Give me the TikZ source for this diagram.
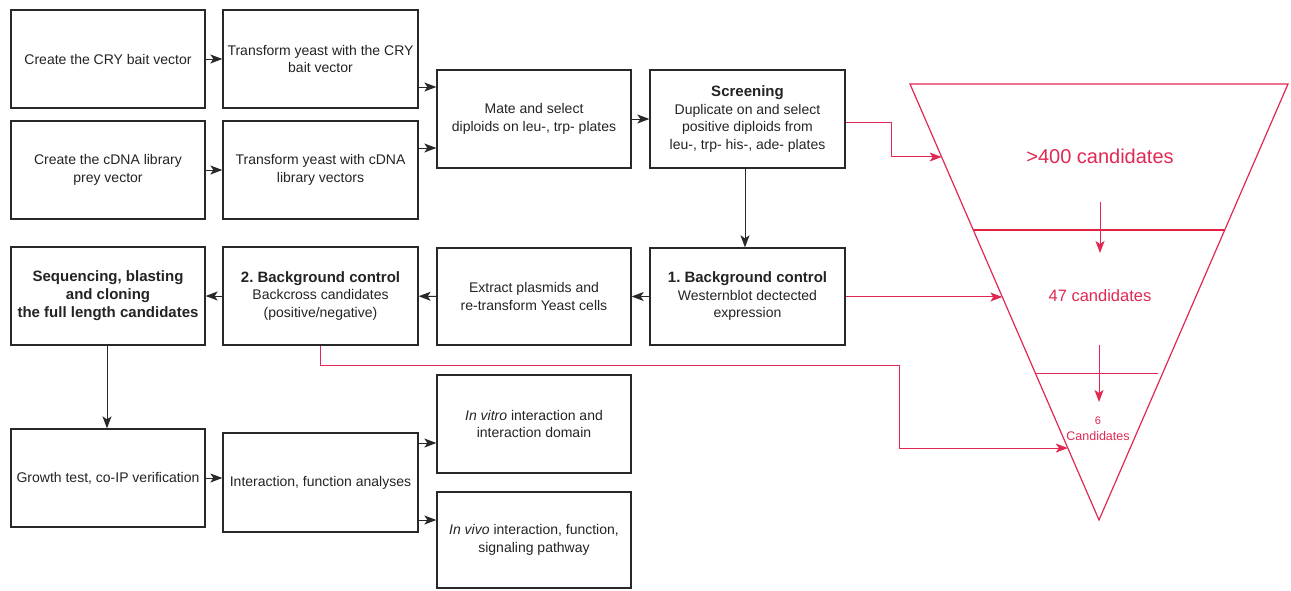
\documentclass[tikz,border=0pt]{standalone}
\usepackage{fontspec}
\setmainfont{Liberation Sans}
\usetikzlibrary{arrows.meta,calc}
\definecolor{fred}{RGB}{224,40,82}
\definecolor{boxline}{RGB}{40,40,40}
\definecolor{txt}{RGB}{35,35,35}
\frenchspacing
\begin{document}
\begin{tikzpicture}[x=1pt,y=-1pt,
  box/.style={draw=boxline, line width=1.3pt, minimum width=194pt, minimum height=98pt,
    align=center, inner sep=2pt, text=txt, font=\fontsize{14}{17.5}\selectfont},
  bbox/.style={box, font=\fontsize{15}{18}\selectfont\bfseries},
  tip/.tip={Stealth[length=12pt,width=9pt,inset=3pt]},
  arr/.style={-tip, draw=boxline, line width=1pt},
  rarr/.style={-tip, draw=fred, line width=1pt},
  rline/.style={draw=fred, line width=1.2pt},
  ftext/.style={text=fred, inner sep=1pt},
]
\useasboundingbox (0,0) rectangle (1291,590);

% boxes
\node[box] (A) at (108,59) {Create the CRY bait vector};
\node[box, minimum width=195pt] (B) at (320.5,59) {Transform yeast with the CRY\\bait vector};
\node[box] (C) at (108,170) {Create the cDNA library\\prey vector};
\node[box, minimum width=195pt] (D) at (320.5,170) {Transform yeast with cDNA\\library vectors};
\node[box] (E) at (534,119) {Mate and select\\diploids on leu-, trp- plates};
\node[box, minimum width=195pt] (F) at (747.5,119) {{\fontsize{15}{18}\selectfont\bfseries Screening}\\Duplicate on and select\\positive diploids from\\leu-, trp- his-, ade- plates};
\node[box, minimum width=195pt, minimum height=97pt] (G) at (747.5,296.5) {{\fontsize{15}{18}\selectfont\bfseries 1. Background control}\\Westernblot dectected\\expression};
\node[box, minimum height=97pt] (H) at (534,296.5) {Extract plasmids and\\re-transform Yeast cells};
\node[box, minimum width=195pt] (I) at (320.5,296) {{\fontsize{15}{18}\selectfont\bfseries 2. Background control}\\Backcross candidates\\(positive/negative)};
\node[bbox] (J) at (108,296) {Sequencing, blasting\\and cloning\\the full length candidates};
\node[box] (K) at (108,478) {Growth test, co-IP verification};
\node[box, minimum width=195pt, minimum height=99pt] (L) at (320.5,482.5) {Interaction, function analyses};
\node[box] (M) at (534,424) {\textit{In vitro} interaction and\\interaction domain};
\node[box, minimum height=96pt] (N) at (534,540) {\textit{In vivo} interaction, function,\\signaling pathway};

% black connectors
\draw[arr] (A) -- (B);
\draw[arr] (C) -- (D);
\draw[arr] ([yshift=-28pt]B.east) -- ([yshift=32pt]E.west);
\draw[arr] ([yshift=22pt]D.east) -- ([yshift=-29pt]E.west);
\draw[arr] (E) -- (F);
\draw[arr] ([xshift=-2.5pt]F.south) -- ([xshift=-2.5pt]G.north);
\draw[arr] (G) -- (H);
\draw[arr] (H) -- (I);
\draw[arr] (I) -- (J);
\draw[arr] ([xshift=-1pt]J.south) -- ([xshift=-1pt]K.north);
\draw[arr] (K.east) -- (K.east -| L.west);
\draw[arr] ([yshift=39.5pt]L.east) -- ([yshift=39.5pt]L.east -| M.west);
\draw[arr] ([yshift=-37.5pt]L.east) -- ([yshift=-37.5pt]L.east -| N.west);

% funnel
\coordinate (T1) at (910,84);
\coordinate (T2) at (1288,84);
\coordinate (P) at (1099,520);
\draw[rline, line join=miter] (T1) -- (T2) -- (P) -- cycle;
\coordinate (m1) at ($(T1)!0.3349!(P)$);
\coordinate (m2) at ($(T2)!0.3349!(P)$);
\draw[draw=fred!80!red, line width=2pt] (m1) -- (m2);
\coordinate (l1) at ($(T1)!0.665!(P)$);
\coordinate (l2) at ($(T2)!0.665!(P)+(-4,0)$);
\draw[draw=fred, line width=1pt] (l1) -- (l2);

\node[ftext, font=\fontsize{20}{24}\selectfont] (c400) at (1100,156) {>400 candidates};
\node[ftext, font=\fontsize{16.5}{20}\selectfont] (c47) at (1100,296) {47 candidates};
\node[ftext, font=\fontsize{12.5}{16}\selectfont, align=center] (c6) at (1098,429) {{\fontsize{11}{12}\selectfont 6}\\Candidates};

\coordinate (a1s) at (1100,202);
\coordinate (a1e) at (1100,253);
\coordinate (a2s) at (1099,345);
\coordinate (a2e) at (1099,402);
\draw[rarr] (a1s) -- (a1e);
\draw[rarr] (a2s) -- (a2e);

% red connectors
\coordinate (eF) at ($(T1)!0.1674!(P)$);
\coordinate (eG) at ($(T1)!0.4885!(P)$);
\coordinate (eI) at ($(T1)!0.835!(P)$);
\draw[rarr] ([yshift=-3pt]F.east) -- ++(46,0) |- (eF);
\draw[rarr] (G.east |- eG) -- (eG);
\draw[rarr] (I.south) -- ++(0,20) -- ++(578.5,0) |- (eI);
\end{tikzpicture}
\end{document}
